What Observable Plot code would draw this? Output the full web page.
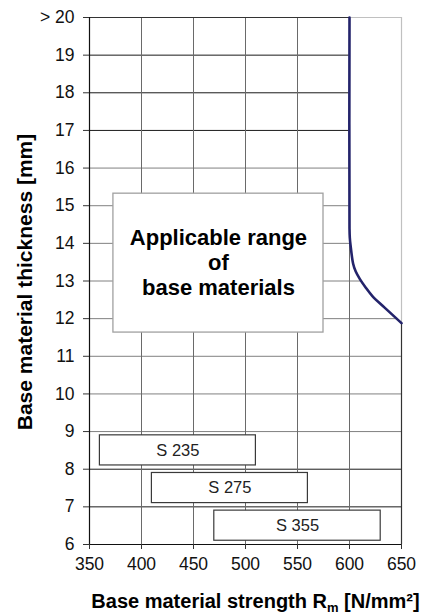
<!DOCTYPE html>
<html>
<head>
<meta charset="utf-8">
<script src="https://cdn.jsdelivr.net/npm/d3@7"></script>
<script src="https://cdn.jsdelivr.net/npm/@observablehq/plot@0.6"></script>
<style>
  html, body { margin: 0; padding: 0; background: #fff; }
  #chart { width: 430px; height: 614px; }
</style>
</head>
<body>
<div id="chart"></div>
<script>
// ---- data ----
const xTicks = [350, 400, 450, 500, 550, 600, 650];
const yTicks = [6, 7, 8, 9, 10, 11, 12, 13, 14, 15, 16, 17, 18, 19, 20];
const yTickLabels = ["6", "7", "8", "9", "10", "11", "12", "13", "14", "15", "16", "17", "18", "19", "> 20"];
const darkGridY = [7, 8, 17, 18, 19];

// boundary curve (strength limit vs thickness)
const curveX = [600, 600, 600.3, 601, 603.5, 606, 610, 615.5, 622, 633.5, 650];
const curveY = [20, 14.4, 14.15, 13.95, 13.46, 13.25, 13.05, 12.83, 12.6, 12.3, 11.88];

// steel grade ranges
const grades = ["S 235", "S 275", "S 355"];
const gradeMin = [360, 410, 470];
const gradeMax = [510, 560, 630];
const gradeY1 = [8.1, 7.1, 6.1];
const gradeY2 = [8.9, 7.9, 6.9];

// applicable range box
const rangeLabel = "Applicable range\nof\nbase materials";
const rangeX = [373, 575];
const rangeY = [11.63, 15.32];

const xLabel = "Base material strength Rm [N/mm²]";
const yLabel = "Base material thickness [mm]";

// ---- build tables ----
const curve = curveX.map((x, i) => ({x, y: curveY[i]}));
const gradeRows = grades.map((g, i) => ({g, x1: gradeMin[i], x2: gradeMax[i], y1: gradeY1[i], y2: gradeY2[i]}));
const xMin = xTicks[0], xMax = xTicks[xTicks.length - 1];
const yMin = yTicks[0], yMax = yTicks[yTicks.length - 1];
const yInner = yTicks.filter(y => y > yMin && y < yMax);
const xInner = xTicks.filter(x => x > xMin && x < xMax);
const curveBottomY = curveY[curveY.length - 1];

const font = "Liberation Sans, Arial, sans-serif";

const plot = Plot.plot({
  width: 430,
  height: 614,
  marginTop: 17,
  marginRight: 29,
  marginBottom: 70,
  marginLeft: 89,
  style: {fontFamily: font, background: "white", color: "#000", overflow: "visible"},
  x: {domain: [xMin, xMax], ticks: xTicks, label: null},
  y: {domain: [yMin, yMax], ticks: yTicks, label: null},
  marks: [
    // grid
    Plot.ruleY(yInner, {x1: xMin, x2: xMax, stroke: d => darkGridY.includes(d) ? "#1a1a1a" : "#808080", strokeWidth: 1}),
    Plot.ruleX(xInner, {y1: yMin, y2: yMax, stroke: "#6a6a6a", strokeWidth: 1}),
    // region outside the boundary (blank)
    Plot.areaX(curve, {x1: "x", x2: xMax, y: "y", fill: "white", curve: "catmull-rom"}),
    // border
    Plot.ruleX([xMax], {y1: curveBottomY, y2: yMax, stroke: "#c0c0c0", strokeWidth: 1.2}),
    Plot.ruleX([xMax], {y1: yMin, y2: curveBottomY, stroke: "#333", strokeWidth: 1.2}),
    Plot.ruleY([yMax], {x1: curveX[0], x2: xMax, stroke: "#c0c0c0", strokeWidth: 1.2}),
    Plot.ruleY([yMax], {x1: xMin, x2: curveX[0], stroke: "#333", strokeWidth: 1.2}),
    Plot.ruleY([yMin], {x1: xMin, x2: xMax, stroke: "#111", strokeWidth: 1.2}),
    Plot.ruleX([xMin], {y1: yMin, y2: yMax, stroke: "#111", strokeWidth: 1.2}),
    // applicable range box
    Plot.rect([0], {x1: rangeX[0], x2: rangeX[1], y1: rangeY[0], y2: rangeY[1], fill: "white", stroke: "#a0a0a0", strokeWidth: 1.3}),
    Plot.text([rangeLabel], {x: (rangeX[0] + rangeX[1]) / 2, y: (rangeY[0] + rangeY[1]) / 2, text: d => d,
      dy: -1, fontSize: 22, fontWeight: "bold", lineHeight: 1.12, fill: "#000", textAnchor: "middle", lineAnchor: "middle"}),
    // grade boxes
    Plot.rect(gradeRows, {x1: "x1", x2: "x2", y1: "y1", y2: "y2", fill: "white", stroke: "#3a3a3a", strokeWidth: 1.2}),
    Plot.text(gradeRows, {x: d => (d.x1 + d.x2) / 2, y: d => (d.y1 + d.y2) / 2, text: "g", fontSize: 16.5, fill: "#222"}),
    // boundary curve
    Plot.line(curve, {x: "x", y: "y", stroke: "#23236b", strokeWidth: 2.6, curve: "catmull-rom"}),
    // axes
    Plot.axisX({ticks: xTicks, tickSize: 5, tickPadding: 8, fontSize: 17.5, label: null, stroke: "#333", fill: "#111"}),
    Plot.axisY({ticks: yTicks, tickSize: 6, tickPadding: 9, fontSize: 17.5, label: null, stroke: "#333", fill: "#111",
      tickFormat: d => yTickLabels[yTicks.indexOf(d)]}),
    // axis titles
    Plot.text([xLabel], {frameAnchor: "bottom", text: d => d, dx: 10, dy: 57.5, fontSize: 20, fontWeight: "bold",
      lineAnchor: "middle", textAnchor: "middle", fill: "#000"}),
    Plot.text([yLabel], {frameAnchor: "left", text: d => d, dx: -64, dy: 1, rotate: -90, fontSize: 21, fontWeight: "bold",
      lineAnchor: "middle", textAnchor: "middle", fill: "#000"})
  ]
});

document.getElementById("chart").appendChild(plot);

// subscript "m" in the x title
const svg = d3.select(plot);
svg.selectAll("text").filter(function() { return this.textContent === xLabel; }).each(function() {
  const t = d3.select(this);
  t.text(null);
  t.append("tspan").text("Base material strength R");
  t.append("tspan").attr("font-size", 13).attr("dy", 4).text("m");
  t.append("tspan").attr("dy", -4).text(" [N/mm²]");
});
</script>
</body>
</html>
